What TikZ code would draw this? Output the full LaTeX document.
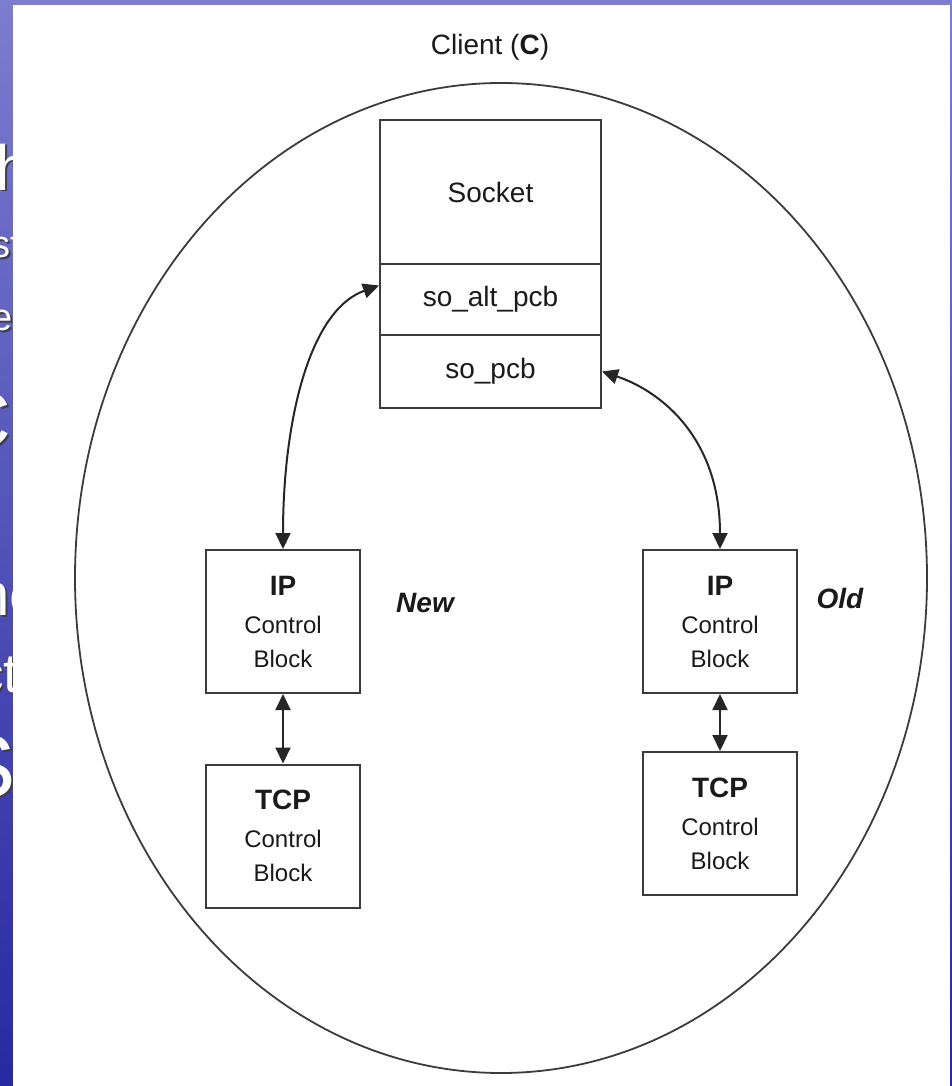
\documentclass[tikz,border=0pt]{standalone}
\usepackage{fontspec}
\setmainfont{Liberation Sans}
\usetikzlibrary{arrows.meta}

\begin{document}
\begin{tikzpicture}[x=1pt, y=1pt, font=\fontsize{28}{34}\selectfont, line cap=round,
  blockbox/.style={draw=boxLine, line width=2pt, fill=white, inner sep=0pt,
    minimum width=154pt, minimum height=143pt, align=center, text=boxText},
  slotbox/.style={draw=boxLine, line width=2pt, inner sep=0pt,
    minimum width=221pt, text=boxText},
  link/.style={{Triangle[length=16pt,width=15pt]}-{Triangle[length=16pt,width=15pt]},
    line width=2pt, draw=black!85}]
  \definecolor{slideTop}{RGB}{124,124,208}
  \definecolor{slideBottom}{RGB}{40,40,162}
  \definecolor{boxLine}{HTML}{3C3C3C}
  \definecolor{boxText}{HTML}{1A1A1A}
  \useasboundingbox (0,0) rectangle (952,-1086);

  % slide behind the figure
  \shade[top color=slideTop, bottom color=slideBottom] (0,0) rectangle (952,-1086);
  \begin{scope}
    \clip (0,0) rectangle (13,-1086);
    \foreach \px/\py/\sz/\txt in {
      -44/-190/64/Th,
      -9/-257/38/st,
      -9/-330/38/e,
      -47/-447/80/C,
      -24/-615/60/nc,
      -24/-692/55/ct,
      -44/-797/89/S}{
      \node[anchor=base west, inner sep=0pt, text=black!75,
        font=\fontsize{\sz}{\sz}\selectfont] at (\px+2,\py-2) {\txt};
      \node[anchor=base west, inner sep=0pt, text=white,
        font=\fontsize{\sz}{\sz}\selectfont] at (\px,\py) {\txt};
    }
  \end{scope}
  \fill[white] (13,-5) rectangle (950,-1086);

  \draw[boxLine, line width=1.8pt] (501,-578) ellipse [x radius=426, y radius=495];
  \node[text=boxText] (client) at (490,-47) {Client (\textbf{C})};

  % socket with its two pointers
  \node[slotbox, minimum height=144pt] (sock) at (490.5,-192) {Socket};
  \node[slotbox, minimum height=71pt] (alt) at (490.5,-299.5) {so\_alt\_pcb};
  \node[slotbox, minimum height=73pt] (pcb) at (490.5,-371.5) {so\_pcb};

  \node[blockbox, font=\fontsize{24}{34}\selectfont] (ipNew) at (283,-621.5)
    {{\fontsize{28}{34}\selectfont\bfseries IP}\\[4pt]Control\\Block};
  \node[blockbox, font=\fontsize{24}{34}\selectfont] (tcpNew) at (283,-836)
    {{\fontsize{28}{34}\selectfont\bfseries TCP}\\[4pt]Control\\Block};
  \node[blockbox, font=\fontsize{24}{34}\selectfont] (ipOld) at (720,-621.5)
    {{\fontsize{28}{34}\selectfont\bfseries IP}\\[4pt]Control\\Block};
  \node[blockbox, font=\fontsize{24}{34}\selectfont] (tcpOld) at (720,-823.5)
    {{\fontsize{28}{34}\selectfont\bfseries TCP}\\[4pt]Control\\Block};

  \node[font=\fontsize{28}{34}\selectfont\bfseries\itshape, text=boxText] (newTag) at (425,-603) {New};
  \node[font=\fontsize{28}{34}\selectfont\bfseries\itshape, text=boxText] (oldTag) at (840,-598) {Old};

  \draw[link] (ipNew.north) .. controls +(0,127) and +(-70,-25) .. ([yshift=14pt]alt.west);
  \draw[link] (pcb.east) .. controls +(60,-20) and +(0,110) .. (ipOld.north);
  \draw[link] (ipNew.south) -- (tcpNew.north);
  \draw[link] (ipOld.south) -- (tcpOld.north);
\end{tikzpicture}
\end{document}
